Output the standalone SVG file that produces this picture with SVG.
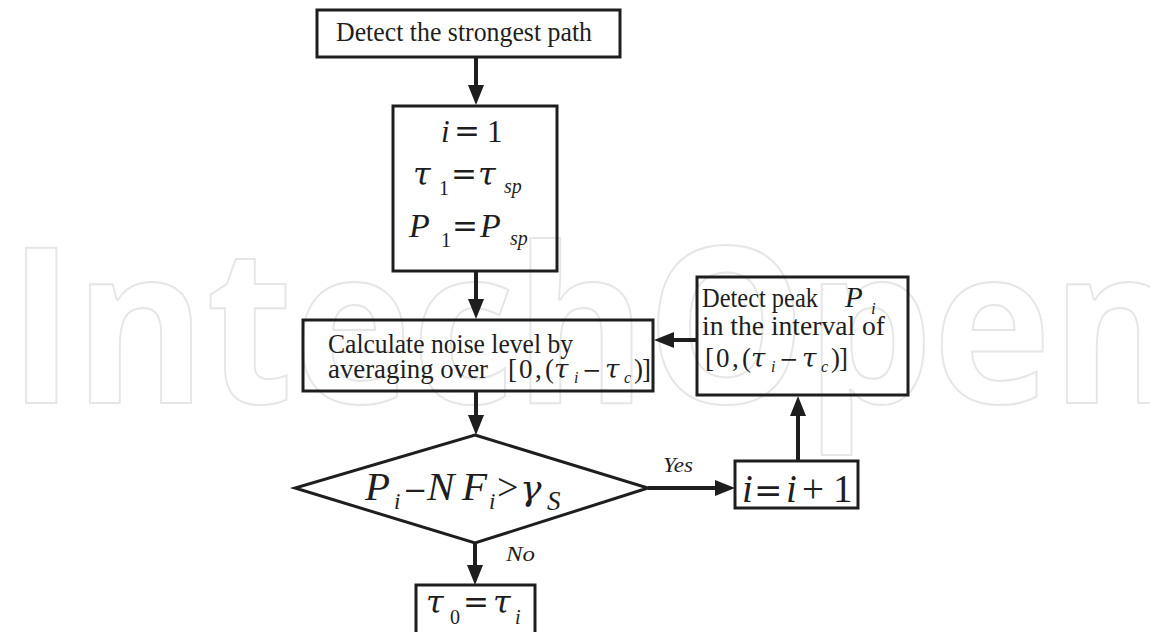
<svg xmlns="http://www.w3.org/2000/svg" xmlns:xlink="http://www.w3.org/1999/xlink" width="1150" height="632" viewBox="0 0 1150 632">
<style>
.wm{font-family:"Open Sans","Noto Sans",sans-serif;font-weight:700;fill:none;stroke:#e6e6e6;stroke-width:2}
.box{fill:none;stroke:#1e1e1e;stroke-width:3}
.t{font-family:"Liberation Serif","Times New Roman",serif;font-size:27px;fill:#1e1e1e}
.m{font-family:"Liberation Serif","Times New Roman",serif;fill:#1e1e1e}
.it{font-style:italic}
.sym{font-family:"DejaVu Serif",serif}
.gr{font-family:"DejaVu Serif",serif;font-style:italic}
.conn line{stroke:#1e1e1e;stroke-width:4;marker-end:url(#ah)}
</style>
<defs>
<marker id="ah" viewBox="0 0 20 20" refX="10" refY="10" markerWidth="20" markerHeight="20" markerUnits="userSpaceOnUse" orient="auto">
<path d="M0,2 L20,10 L0,18 Z" fill="#1e1e1e"/>
</marker>
<g id="interval">
<text class="m" font-size="27"><tspan x="0">[</tspan><tspan x="11">0</tspan><tspan x="27">,</tspan><tspan x="37">(</tspan><tspan x="46" class="gr" font-size="26">τ</tspan><tspan x="66" y="5" class="it" font-size="16">i</tspan><tspan x="74" y="0" class="sym" font-size="23">−</tspan><tspan x="97" class="gr" font-size="26">τ</tspan><tspan x="116" y="5" class="it" font-size="16">c</tspan><tspan x="126" y="0">)</tspan><tspan x="134">]</tspan></text>
</g>
</defs>
<rect width="1150" height="632" fill="#ffffff"/>
<text class="wm" x="8" y="403" font-size="218" textLength="1175" lengthAdjust="spacingAndGlyphs">IntechOpen</text>

<g class="conn">
<line x1="476" y1="57" x2="476" y2="95"/>
<line x1="476" y1="271" x2="476" y2="309"/>
<line x1="697" y1="340" x2="664" y2="340"/>
<line x1="476" y1="391" x2="476" y2="425"/>
<line x1="648" y1="488" x2="725" y2="488"/>
<line x1="798" y1="461" x2="798" y2="406"/>
<line x1="475" y1="543" x2="475" y2="575"/>
</g>

<g id="n-start">
<rect class="box" x="317" y="10" width="303" height="47"/>
<text class="t" x="336" y="41" font-size="25" textLength="256" lengthAdjust="spacingAndGlyphs">Detect the strongest path</text>
</g>

<g id="n-init">
<rect class="box" x="393" y="106" width="164" height="165"/>
<text class="m" font-size="31" y="142"><tspan x="441" class="it">i</tspan><tspan x="454" class="sym">=</tspan><tspan x="487">1</tspan></text>
<text class="m" font-size="31" y="185"><tspan x="413" class="gr" font-size="32">τ</tspan><tspan x="439" y="195" font-size="20">1</tspan><tspan x="451" y="185" class="sym">=</tspan><tspan x="478" class="gr" font-size="32">τ</tspan><tspan x="504" y="193" class="it" font-size="20">sp</tspan></text>
<text class="m" font-size="34" y="237"><tspan x="409" class="it">P</tspan><tspan x="441" y="247" font-size="20">1</tspan><tspan x="452" y="237" class="sym" font-size="31">=</tspan><tspan x="480" class="it">P</tspan><tspan x="510" y="245" class="it" font-size="20">sp</tspan></text>
</g>

<g id="n-noise">
<rect class="box" x="303" y="320" width="350" height="71"/>
<text class="t" x="328" y="353" textLength="245" lengthAdjust="spacingAndGlyphs">Calculate noise level by</text>
<text class="t" x="328" y="378" textLength="160" lengthAdjust="spacingAndGlyphs">averaging over</text>
<use xlink:href="#interval" x="508" y="378"/>
</g>

<g id="n-peak">
<rect class="box" x="697" y="277" width="211" height="118"/>
<text class="t" x="702" y="307" textLength="116" lengthAdjust="spacingAndGlyphs">Detect peak</text>
<text class="m" font-size="29" y="307"><tspan x="845" class="it">P</tspan><tspan x="871" y="314" class="it" font-size="17">i</tspan></text>
<text class="t" x="702" y="335" textLength="183" lengthAdjust="spacingAndGlyphs">in the interval of</text>
<use xlink:href="#interval" x="705" y="367"/>
</g>

<g id="n-decision">
<polygon class="box" points="475,435 648,488 475,543 295,488"/>
<text class="m" font-size="41" y="500"><tspan x="365" class="it">P</tspan><tspan x="394" y="509" class="it" font-size="23">i</tspan><tspan x="403" y="500" class="sym" font-size="29">−</tspan><tspan x="427" class="it">N</tspan><tspan x="462" class="it">F</tspan><tspan x="489" y="509" class="it" font-size="23">i</tspan><tspan x="497" y="500" font-size="38">&gt;</tspan><tspan x="520" class="gr" font-size="36">γ</tspan><tspan x="547" y="510" class="it" font-size="27">S</tspan></text>
</g>

<g id="n-incr">
<rect class="box" x="735" y="461" width="123" height="47"/>
<text class="m" font-size="39" y="502"><tspan x="742" class="it">i</tspan><tspan x="754" class="sym" font-size="34">=</tspan><tspan x="786" class="it">i</tspan><tspan x="802">+</tspan><tspan x="833">1</tspan></text>
</g>

<g id="n-end">
<rect class="box" x="416" y="585" width="119" height="60"/>
<text class="m" font-size="31" y="613"><tspan x="426" class="gr" font-size="32">τ</tspan><tspan x="450" y="624" font-size="20">0</tspan><tspan x="463" y="613" class="sym">=</tspan><tspan x="493" class="gr" font-size="32">τ</tspan><tspan x="515" y="624" class="it" font-size="20">i</tspan></text>
</g>

<g id="labels">
<text class="m it" font-size="22" x="663" y="472" textLength="30" lengthAdjust="spacingAndGlyphs">Yes</text>
<text class="m it" font-size="22" x="506" y="561" textLength="29" lengthAdjust="spacingAndGlyphs">No</text>
</g>
</svg>
